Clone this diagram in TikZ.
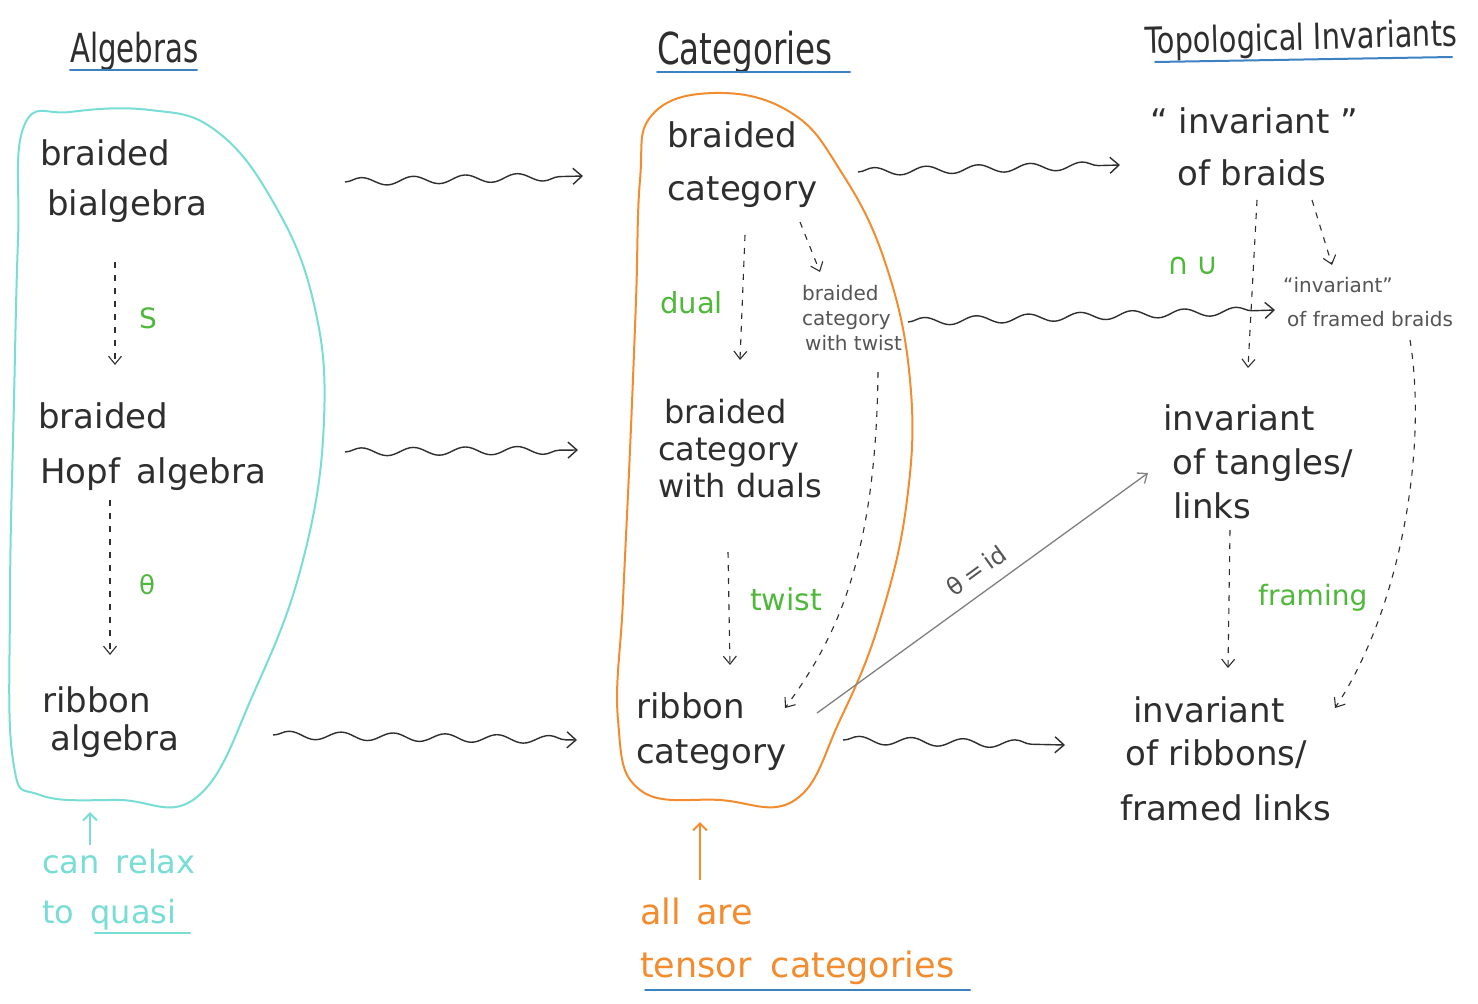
\documentclass[tikz,border=0pt]{standalone}
\usepackage{fontspec}
\setmainfont{DejaVu Sans}
\usetikzlibrary{decorations.pathmorphing,arrows.meta,calc}
\definecolor{ink}{HTML}{2E2E2E}
\definecolor{pencil}{HTML}{555555}
\definecolor{tealc}{HTML}{78DDD4}
\definecolor{orng}{HTML}{F28C2E}
\definecolor{grn}{HTML}{4FB83A}
\definecolor{ulblue}{HTML}{3C82C2}
\begin{document}
\begin{tikzpicture}[x=1pt,y=-1pt,
  txt/.style={inner sep=0pt, anchor=north west, align=left, text=ink},
  hdr/.style={inner sep=0pt, anchor=base west, text=ink},
  small/.style={txt, text=pencil, font=\fontsize{20}{25}\selectfont},
  glab/.style={inner sep=0pt, text=grn},
  ul/.style={draw=ulblue, line width=2pt, line cap=round},
  wavy/.style={draw=ink, line width=1.4pt, decorate,
    decoration={snake, segment length=52pt, amplitude=4pt, post length=10pt},
    -{Straight Barb[length=9pt,width=16pt]}},
  dash arrow/.style={draw=ink, line width=1.1pt, dash pattern=on 6pt off 7pt,
    -{Straight Barb[length=8pt,width=13pt]}},
  blob/.style={line width=2pt, line join=round}]
\useasboundingbox[fill=white] (0,0) rectangle (1478,1004);

% headers
\node[hdr, font=\fontsize{40}{40}\selectfont] (hA) at (70,62) {\scalebox{0.73}[1]{Algebras}};
\node[hdr, font=\fontsize{44}{44}\selectfont] (hC) at (657,64) {\scalebox{0.74}[1]{Categories}};
\node[hdr, font=\fontsize{36}{36}\selectfont, rotate=1.5] (hT) at (1145,54) {\scalebox{0.8}[1]{Topological Invariants}};
\draw[ul] ([shift={(0,8)}]hA.base west) -- ([shift={(127,8)}]hA.base west);
\draw[ul] ([shift={(0,8)}]hC.base west) -- ([shift={(193,8)}]hC.base west);
\draw[ul] ([shift={(10,8)}]hT.base west) -- ([shift={(307,3)}]hT.base west);

% blobs
\draw[blob, tealc] plot[smooth cycle, tension=0.7] coordinates {
  (24,126) (70,112) (150,110) (215,130) (272,200) (313,300) (324,420)
  (303,560) (255,690) (197,797) (120,800) (40,795) (13,760) (10,600) (14,400) (18,240)};
\draw[blob, orng] plot[smooth cycle, tension=0.7] coordinates {
  (652,115) (715,93) (790,112) (840,170) (885,262) (910,380) (907,500)
  (880,620) (840,720) (795,800) (720,800) (640,790) (618,720) (623,600)
  (630,450) (636,300) (640,180)};
\coordinate (algb) at (90,812);
\coordinate (catb) at (700,822);

% algebras column
\node[txt, font=\fontsize{34}{50}\selectfont] (bb) at (40,139) {braided\\\hspace*{7pt}bialgebra};
\node[txt, font=\fontsize{34}{55}\selectfont] (bh) at (38,402) {braided\\\hspace*{2pt}Hopf\hspace*{6pt} algebra};
\node[txt, font=\fontsize{34}{38}\selectfont] (ra) at (42,686) {ribbon\\\hspace*{8pt}algebra};

% categories column
\node[txt, font=\fontsize{34}{53}\selectfont] (bc) at (667,121) {braided\\category};
\node[small] (bct) at (802,285) {braided\\category\\\hspace*{3pt}with twist};
\node[txt, font=\fontsize{32}{37}\selectfont] (bcd) at (658,399) {\hspace*{6pt}braided\\category\\with duals};
\node[txt, font=\fontsize{34}{45}\selectfont] (rc) at (636,692) {ribbon\\category};

% invariants column
\node[txt, font=\fontsize{34}{52}\selectfont] (ib) at (1150,107) {“ invariant ”\\\hspace*{27pt}of braids};
\node[small, font=\fontsize{20}{34}\selectfont] (ifb) at (1283,277) {“invariant”\\\hspace*{4pt}of framed braids};
\node[txt, font=\fontsize{34}{44}\selectfont] (itl) at (1163,404) {invariant\\\hspace*{9pt}of tangles/\\\hspace*{10pt}links};
\node[txt, font=\fontsize{34}{43}\selectfont] (ir) at (1120,696) {\hspace*{13pt}invariant\\\hspace*{5pt}of ribbons/\\[12pt]framed links};

% bottom notes
\node[txt, text=tealc, font=\fontsize{32}{50}\selectfont] (cr) at (42,849) {can\hspace*{6pt} relax\\to\hspace*{6pt} quasi};
\node[txt, text=orng, font=\fontsize{35}{53}\selectfont] (tc) at (640,898) {all\hspace*{4pt} are\\tensor\hspace*{8pt} categories};
\draw[draw=tealc, line width=2pt, -{Straight Barb[length=7pt,width=14pt]}] ([shift={(48,-4)}]cr.north west) -- (algb);
\draw[draw=orng, line width=2pt, -{Straight Barb[length=7pt,width=14pt]}] ([shift={(60,-18)}]tc.north west) -- (catb);
\draw[draw=tealc, line width=2pt, line cap=round] ([shift={(53,84)}]cr.north west) -- ([shift={(148,84)}]cr.north west);
\draw[ul] ([shift={(5,92)}]tc.north west) -- ([shift={(330,92)}]tc.north west);

% green labels
\node[glab, font=\fontsize{28}{28}\selectfont] (lS) at (148,318) {S};
\node[glab, font=\fontsize{26}{26}\selectfont] (lth) at (147,585) {θ};
\node[glab, anchor=base west, font=\fontsize{29}{29}\selectfont] (ldual) at (660,313) {dual};
\node[glab, anchor=base west, font=\fontsize{30}{30}\selectfont] (ltwist) at (750,610) {twist};
\node[glab, anchor=base west, font=\fontsize{28}{28}\selectfont] (lfr) at (1258,605) {framing};
\node[glab, font=\fontsize{30}{30}\selectfont] (lcc) at (1193,266) {∩\hspace*{8pt}∪};

% vertical dashed arrows
\draw[dash arrow] ([shift={(75,123)}]bb.north west) -- ([shift={(77,-37)}]bh.north west);
\draw[dash arrow] ([shift={(72,98)}]bh.north west) -- ([shift={(68,-31)}]ra.north west);
\draw[dash arrow] ([shift={(78,114)}]bc.north west) -- ([shift={(82,-39)}]bcd.north west);
\draw[dash arrow] ([shift={(133,101)}]bc.north west) -- ([shift={(18,-13)}]bct.north west);
\draw[dash arrow] ([shift={(70,153)}]bcd.north west) -- ([shift={(94,-27)}]rc.north west);
\draw[dash arrow] ([shift={(76,87)}]bct.north west) .. controls (876,560) and (835,640) .. ([shift={(149,16)}]rc.north west);
\draw[dash arrow] ([shift={(107,93)}]ib.north west) -- ([shift={(85,-36)}]itl.north west);
\draw[dash arrow] ([shift={(162,93)}]ib.north west) -- ([shift={(49,-12)}]ifb.north west);
\draw[dash arrow] ([shift={(67,126)}]itl.north west) -- ([shift={(108,-28)}]ir.north west);
\draw[dash arrow] ([shift={(127,63)}]ifb.north west) .. controls (1428,450) and (1400,610) .. ([shift={(215,12)}]ir.north west);

% theta = id
\draw[draw=gray, line width=1.3pt, -{Straight Barb[length=8pt,width=13pt]}]
  ([shift={(181,21)}]rc.north west) -- node[pos=0.52, sloped, above, inner sep=12pt, text=pencil, font=\fontsize{24}{24}\selectfont] (lid) {θ\kern5pt=\kern5pt id} ([shift={(-15,69)}]itl.north west);

% wavy arrows
\draw[wavy] ([shift={(305,43)}]bb.north west) -- ([shift={(-84,55)}]bc.north west);
\draw[wavy] ([shift={(307,50)}]bh.north west) -- ([shift={(-80,51)}]bcd.north west);
\draw[wavy] ([shift={(231,49)}]ra.north west) -- ([shift={(-59,48)}]rc.north west);
\draw[wavy] ([shift={(191,51)}]bc.north west) -- ([shift={(-30,58)}]ib.north west);
\draw[wavy] ([shift={(106,37)}]bct.north west) -- ([shift={(-8,33)}]ifb.north west);
\draw[wavy] ([shift={(207,48)}]rc.north west) -- ([shift={(-55,49)}]ir.north west);
\end{tikzpicture}
\end{document}
